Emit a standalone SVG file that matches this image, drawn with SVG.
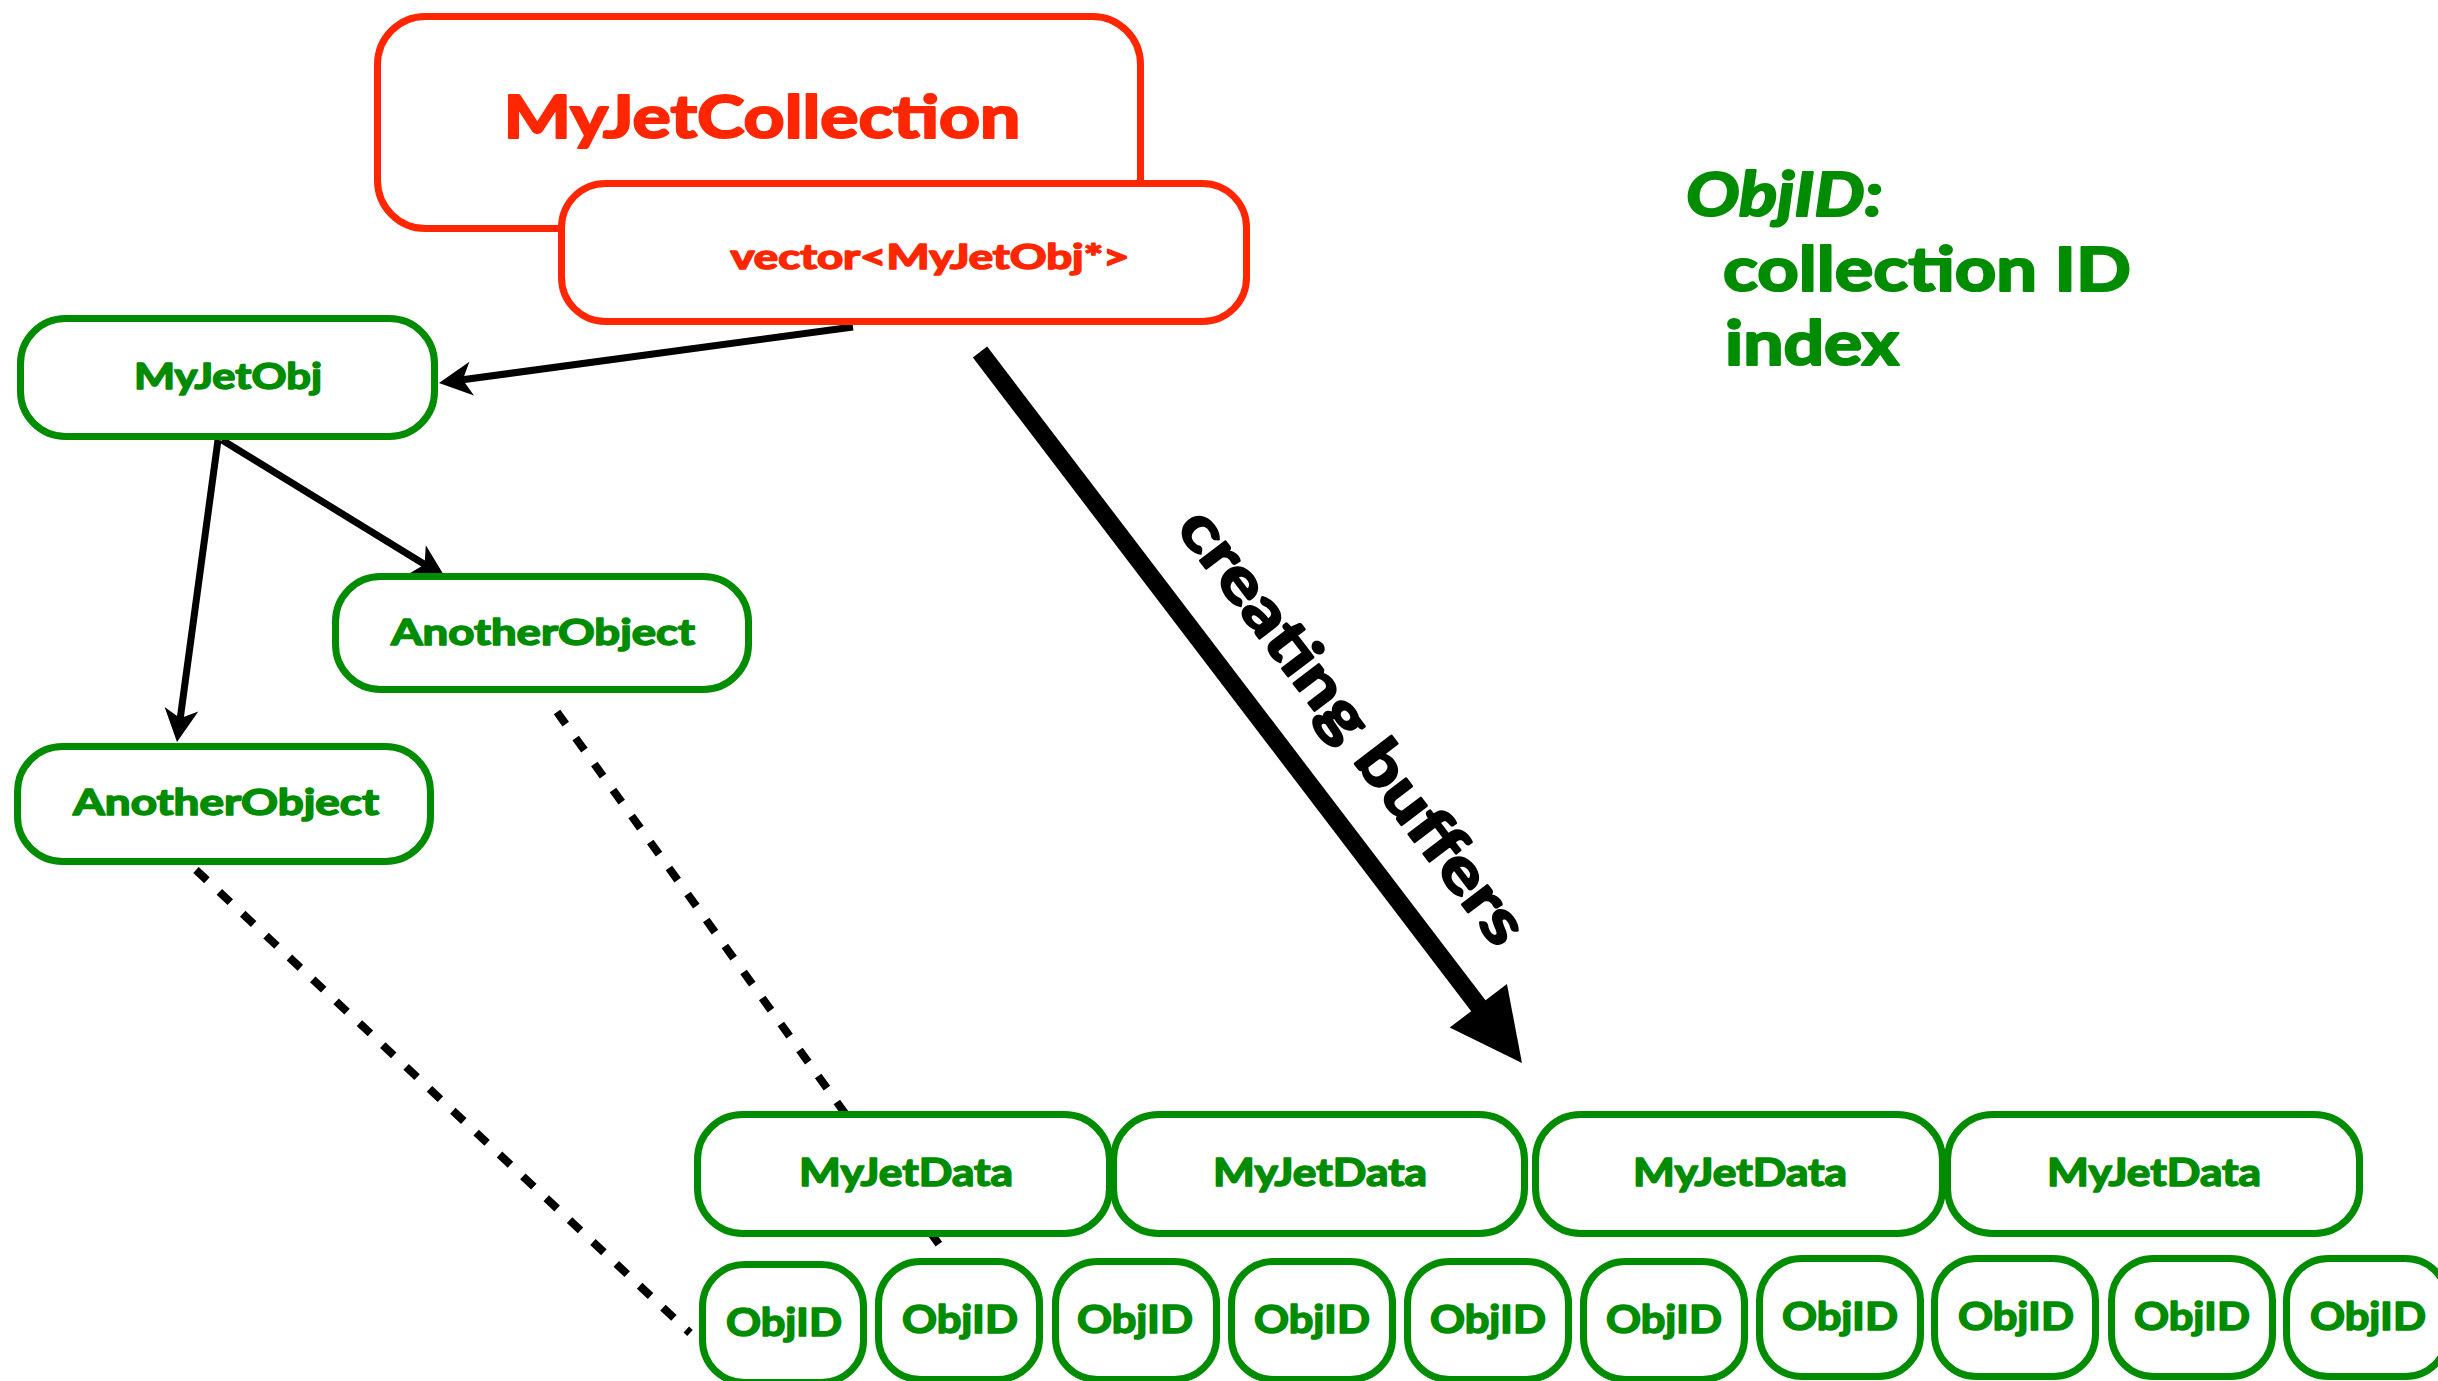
<svg xmlns="http://www.w3.org/2000/svg" width="2438" height="1381" viewBox="0 0 2438 1381">
  <style>
    .red { fill: #FFFFFF; stroke: #FF2600; stroke-width: 7; }
    .green { fill: #FFFFFF; stroke: #008C00; stroke-width: 7; }
    .lbl { font-family: Lato, "Liberation Sans", sans-serif; font-weight: 700; text-anchor: middle; stroke-width: 1.6; stroke-linejoin: round; }
    .lbl-red { fill: #FF2600; stroke: #FF2600; }
    .lbl-green { fill: #008C00; stroke: #008C00; }
    .lbl-black { fill: #000000; stroke: #000000; stroke-width: 2.4; }
    .link { fill: none; stroke: #000000; stroke-width: 7; marker-end: url(#head); }
    .dash { fill: none; stroke: #000000; stroke-width: 8; stroke-dasharray: 15 17; }
    .legend { font-family: Lato, "Liberation Sans", sans-serif; font-weight: 700; fill: #008C00; stroke: #008C00; stroke-width: 2.2; stroke-linejoin: round; font-size: 62px; }
  </style>
  <defs>
    <marker id="head" markerUnits="userSpaceOnUse" viewBox="-36 -19 38 38" markerWidth="38" markerHeight="38" refX="-20" refY="0" orient="auto">
      <path d="M0,0 L-33,-17 L-24,0 L-33,17 Z" fill="#000000"/>
    </marker>
    <marker id="bighead" markerUnits="userSpaceOnUse" viewBox="-76 -38 78 76" markerWidth="78" markerHeight="76" refX="-60" refY="0" orient="auto">
      <path d="M0,0 L-72,-36 L-72,36 Z" fill="#000000"/>
    </marker>
  </defs>

  <rect width="2438" height="1381" fill="#FFFFFF"/>

  <!-- connectors -->
  <g id="connectors">
    <line class="dash" x1="196" y1="870" x2="690" y2="1333"/>
    <line class="dash" x1="557" y1="712" x2="943" y2="1250"/>
    <line class="link" x1="853" y1="327" x2="458.8" y2="380.3"/>
    <line class="link" x1="222" y1="440" x2="428" y2="566.5"/>
    <line class="link" x1="218" y1="440" x2="179.7" y2="722.2"/>
    <line x1="980" y1="352" x2="1485.6" y2="1015.3" stroke="#000000" stroke-width="18" marker-end="url(#bighead)"/>
    <text class="lbl lbl-black" font-size="62" textLength="530" lengthAdjust="spacingAndGlyphs" transform="translate(1336,739) rotate(52.68)">creating buffers</text>
  </g>

  <!-- collection -->
  <g id="collection">
    <rect class="red" x="377.5" y="16.5" width="763" height="212" rx="48"/>
    <text class="lbl lbl-red" x="762" y="138" font-size="60" textLength="517" lengthAdjust="spacingAndGlyphs" style="stroke-width:2.2">MyJetCollection</text>
  </g>
  <g id="vector">
    <rect class="red" x="561.5" y="183.5" width="685" height="138" rx="44"/>
    <text class="lbl lbl-red" x="930" y="269" font-size="34" textLength="399" lengthAdjust="spacingAndGlyphs">vector&lt;MyJetObj*&gt;</text>
  </g>

  <!-- object graph -->
  <g id="myjetobj">
    <rect class="green" x="20.5" y="318.5" width="414" height="118" rx="45"/>
    <text class="lbl lbl-green" x="228" y="389" font-size="37" textLength="188" lengthAdjust="spacingAndGlyphs">MyJetObj</text>
  </g>
  <g id="another-1">
    <rect class="green" x="335.5" y="576.5" width="413" height="113" rx="45"/>
    <text class="lbl lbl-green" x="543" y="645" font-size="37" textLength="304" lengthAdjust="spacingAndGlyphs">AnotherObject</text>
  </g>
  <g id="another-2">
    <rect class="green" x="17.5" y="746.5" width="413" height="115" rx="45"/>
    <text class="lbl lbl-green" x="226" y="815" font-size="37" textLength="306" lengthAdjust="spacingAndGlyphs">AnotherObject</text>
  </g>

  <!-- data buffer -->
  <g id="data-1">
    <rect class="green" x="697.5" y="1114.5" width="412" height="119" rx="45"/>
    <text class="lbl lbl-green" x="906" y="1186" font-size="39" textLength="214" lengthAdjust="spacingAndGlyphs">MyJetData</text>
  </g>
  <g id="data-2">
    <rect class="green" x="1113.5" y="1114.5" width="411" height="119" rx="45"/>
    <text class="lbl lbl-green" x="1320" y="1186" font-size="39" textLength="214" lengthAdjust="spacingAndGlyphs">MyJetData</text>
  </g>
  <g id="data-3">
    <rect class="green" x="1535.5" y="1114.5" width="407" height="119" rx="45"/>
    <text class="lbl lbl-green" x="1740" y="1186" font-size="39" textLength="214" lengthAdjust="spacingAndGlyphs">MyJetData</text>
  </g>
  <g id="data-4">
    <rect class="green" x="1947.5" y="1114.5" width="412" height="119" rx="45"/>
    <text class="lbl lbl-green" x="2154" y="1186" font-size="39" textLength="214" lengthAdjust="spacingAndGlyphs">MyJetData</text>
  </g>

  <!-- id buffer -->
  <g id="objid-1">
    <rect class="green" x="702.5" y="1264.5" width="161" height="118" rx="42"/>
    <text class="lbl lbl-green" x="784" y="1336" font-size="39" textLength="116" lengthAdjust="spacingAndGlyphs">ObjID</text>
  </g>
  <g id="objid-2">
    <rect class="green" x="878.5" y="1261.5" width="161" height="118" rx="42"/>
    <text class="lbl lbl-green" x="960" y="1333" font-size="39" textLength="116" lengthAdjust="spacingAndGlyphs">ObjID</text>
  </g>
  <g id="objid-3">
    <rect class="green" x="1055.5" y="1261.5" width="161" height="118" rx="42"/>
    <text class="lbl lbl-green" x="1135" y="1333" font-size="39" textLength="116" lengthAdjust="spacingAndGlyphs">ObjID</text>
  </g>
  <g id="objid-4">
    <rect class="green" x="1231.5" y="1261.5" width="161" height="118" rx="42"/>
    <text class="lbl lbl-green" x="1312" y="1333" font-size="39" textLength="116" lengthAdjust="spacingAndGlyphs">ObjID</text>
  </g>
  <g id="objid-5">
    <rect class="green" x="1407.5" y="1261.5" width="161" height="118" rx="42"/>
    <text class="lbl lbl-green" x="1488" y="1333" font-size="39" textLength="116" lengthAdjust="spacingAndGlyphs">ObjID</text>
  </g>
  <g id="objid-6">
    <rect class="green" x="1583.5" y="1261.5" width="161" height="118" rx="42"/>
    <text class="lbl lbl-green" x="1664" y="1333" font-size="39" textLength="116" lengthAdjust="spacingAndGlyphs">ObjID</text>
  </g>
  <g id="objid-7">
    <rect class="green" x="1759.5" y="1258.5" width="161" height="118" rx="42"/>
    <text class="lbl lbl-green" x="1840" y="1330" font-size="39" textLength="116" lengthAdjust="spacingAndGlyphs">ObjID</text>
  </g>
  <g id="objid-8">
    <rect class="green" x="1934.5" y="1258.5" width="161" height="118" rx="42"/>
    <text class="lbl lbl-green" x="2016" y="1330" font-size="39" textLength="116" lengthAdjust="spacingAndGlyphs">ObjID</text>
  </g>
  <g id="objid-9">
    <rect class="green" x="2111.5" y="1258.5" width="161" height="118" rx="42"/>
    <text class="lbl lbl-green" x="2192" y="1330" font-size="39" textLength="116" lengthAdjust="spacingAndGlyphs">ObjID</text>
  </g>
  <g id="objid-10">
    <rect class="green" x="2286.5" y="1258.5" width="161" height="118" rx="42"/>
    <text class="lbl lbl-green" x="2368" y="1330" font-size="39" textLength="116" lengthAdjust="spacingAndGlyphs">ObjID</text>
  </g>

  <!-- ObjID layout note -->
  <g id="legend">
    <text class="legend" x="1686" y="216" font-style="italic" textLength="197" lengthAdjust="spacingAndGlyphs">ObjID:</text>
    <text class="legend" x="1723" y="291" textLength="408" lengthAdjust="spacingAndGlyphs">collection ID</text>
    <text class="legend" x="1725" y="365" textLength="174" lengthAdjust="spacingAndGlyphs">index</text>
  </g>
</svg>
